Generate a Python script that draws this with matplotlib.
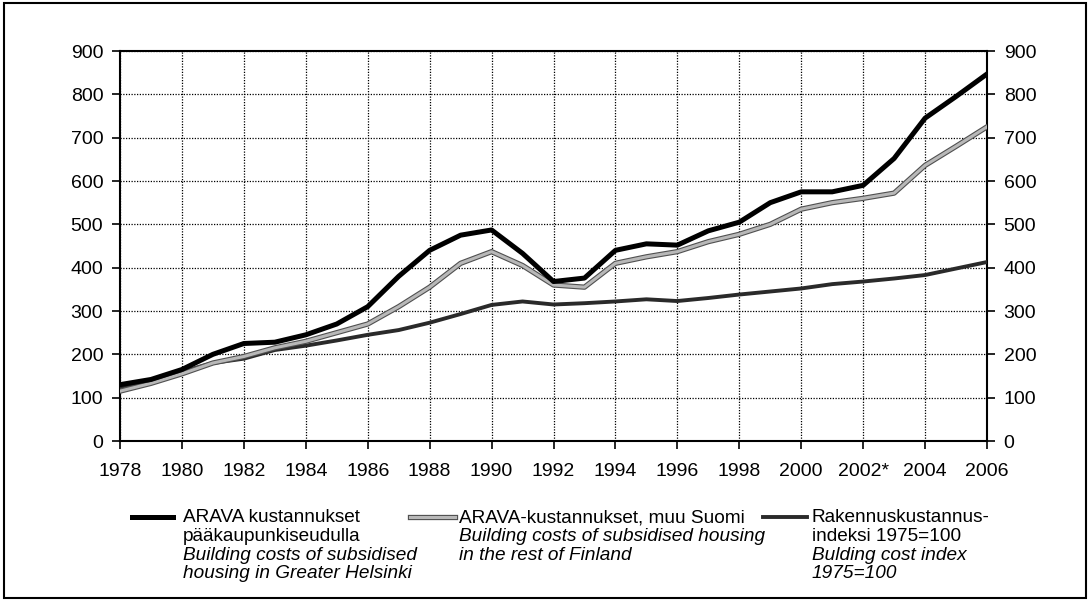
import matplotlib
matplotlib.use("Agg")
import matplotlib.pyplot as plt
import matplotlib.patheffects as pe
from matplotlib.lines import Line2D
from matplotlib.patches import Rectangle

plt.rcParams['font.family'] = ['Liberation Sans', 'DejaVu Sans']

years = list(range(1978, 2007))
helsinki = [130, 142, 165, 200, 225, 228, 245, 270, 310, 380, 440, 475, 487, 433, 368, 376,
            440, 455, 452, 485, 505, 550, 575, 575, 590, 652, 745, 795, 847]
rest_finland = [115, 133, 155, 180, 195, 215, 230, 250, 270, 310, 355, 410, 437, 405, 360, 355,
                410, 425, 437, 460, 477, 500, 535, 550, 560, 572, 636, 680, 725]
cost_index = [125, 140, 160, 180, 190, 210, 220, 232, 245, 256, 273, 293, 314, 322, 315, 318,
              322, 327, 323, 330, 338, 345, 352, 362, 368, 375, 383, 398, 413]

xtick_pos = list(range(1978, 2007, 2))
xtick_labels = ['1978', '1980', '1982', '1984', '1986', '1988', '1990', '1992', '1994',
                '1996', '1998', '2000', '2002*', '2004', '2006']
yticks = list(range(0, 901, 100))

leg_texts = [
    [("ARAVA kustannukset", 'normal'), ("pääkaupunkiseudulla", 'normal'),
     ("Building costs of subsidised", 'italic'), ("housing in Greater Helsinki", 'italic')],
    [("ARAVA-kustannukset, muu Suomi", 'normal'),
     ("Building costs of subsidised housing", 'italic'), ("in the rest of Finland", 'italic')],
    [("Rakennuskustannus-", 'normal'), ("indeksi 1975=100", 'normal'),
     ("Bulding cost index", 'italic'), ("1975=100", 'italic')],
]

W, H = 1089, 602
fig = plt.figure(figsize=(W / 100, H / 100), dpi=100)
ax = fig.add_axes([120 / W, 1 - 441 / H, 867 / W, 390 / H])

# lines
l1, = ax.plot(years, helsinki, color='black', lw=3.6, solid_joinstyle='round', zorder=5)
l2, = ax.plot(years, rest_finland, color='#b8b8b8', lw=2.2, zorder=4,
              path_effects=[pe.Stroke(linewidth=3.8, foreground='#505050'), pe.Normal()])
l3, = ax.plot(years, cost_index, color='#2a2a2a', lw=2.8, zorder=3)

ax.set_xlim(1978, 2006)
ax.set_ylim(0, 900)
ax.set_xticks(xtick_pos)
ax.set_xticklabels(xtick_labels)
ax.set_yticks(yticks)
ax.grid(True, color='black', linestyle=(0, (1, 1.2)), linewidth=0.9)
for s in ax.spines.values():
    s.set_linewidth(1.5)
ax.tick_params(axis='both', labelsize=14, length=6, width=1.2, direction='out')
ax.tick_params(axis='y', which='both', left=True, right=True, labelleft=True, labelright=True, pad=6)
ax.tick_params(axis='x', pad=10)

# legend (manual)
handle_y = 1 - 517 / H
handles = [(132, 173, l1), (410, 455, l2), (763, 807, l3)]
text_x = [183, 459, 812]
for (x0, x1, ln), tx, lines in zip(handles, text_x, leg_texts):
    kw = dict(color=ln.get_color(), lw=ln.get_linewidth())
    legline = Line2D([x0 / W, x1 / W], [handle_y, handle_y], transform=fig.transFigure, **kw)
    if ln.get_path_effects():
        legline.set_path_effects(ln.get_path_effects())
    fig.add_artist(legline)
    for i, (txt, style) in enumerate(lines):
        fig.text(tx / W, 1 - (518 + 18.6 * i) / H, txt, fontsize=13.7, style=style,
                 ha='left', va='center')

# outer frame
fig.add_artist(Rectangle((4 / W, 4 / H), 1082 / W, 595 / H, transform=fig.transFigure,
                         fill=False, edgecolor='black', lw=1.5))

fig.savefig('out.png', dpi=100)
